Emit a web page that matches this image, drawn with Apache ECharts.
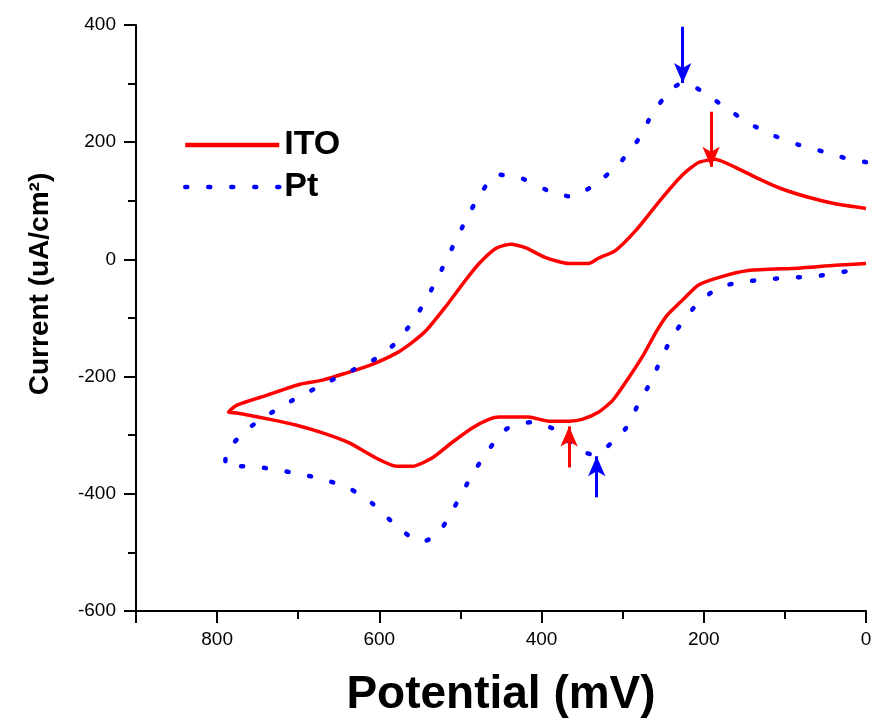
<!DOCTYPE html>
<html>
<head>
<meta charset="utf-8">
<script src="https://cdn.jsdelivr.net/npm/echarts@6/dist/echarts.min.js"></script>
<style>
  html, body { margin: 0; padding: 0; background: #fff; }
  #cv { width: 875px; height: 723px; }
</style>
</head>
<body>
<div id="cv"></div>
<script>
// ITO loop: upper branch 0 -> 787 mV, then lower branch back to 0
var itoPotential = [0, 38, 71, 105, 136, 161, 186, 207, 227, 256, 284, 309, 330, 342, 366, 395, 420, 438, 456, 477, 494, 519, 542, 559, 579, 612, 641, 670, 698, 739, 776, 786,
                    776, 735, 702, 670, 637, 604, 579, 559, 535, 510, 486, 465, 452, 416, 391, 366, 350, 330, 312, 294, 274, 258, 245, 223, 207, 182, 145, 84, 38, 0];
var itoCurrent = [87, 95, 106, 121, 140, 157, 171, 165, 143, 97, 49, 15, 2, -7, -7, 3, 20, 26, 19, -7, -36, -82, -121, -141, -160, -181, -194, -206, -213, -232, -249, -261,
                  -262, -273, -283, -296, -313, -339, -353, -353, -339, -312, -288, -273, -269, -269, -276, -276, -273, -261, -240, -205, -162, -122, -95, -65, -44, -31, -19, -15, -10, -7];

// Pt loop
var ptPotential = [0, 23, 53, 84, 113, 144, 173, 200, 214, 228, 242, 264, 280, 304, 333, 363, 393, 424, 455, 478, 494, 508, 523, 539, 556, 580, 610, 641, 670, 700, 730, 761, 788,
                   790, 757, 728, 698, 668, 638, 609, 579, 560, 548, 535, 521, 504, 487, 468, 444, 414, 384, 355, 340, 323, 296, 280, 263, 250, 233, 210, 182, 154, 123, 92, 63, 32, 0];
var ptCurrent = [166, 172, 184, 196, 211, 232, 259, 285, 296, 300, 288, 247, 206, 164, 129, 107, 118, 138, 145, 106, 65, 26, -17, -60, -100, -143, -174, -194, -214, -235, -259, -288, -327,
                 -353, -353, -359, -366, -376, -390, -416, -455, -475, -482, -475, -455, -414, -371, -330, -290, -278, -290, -324, -332, -324, -288, -245, -203, -161, -120, -79, -48, -39, -34, -31, -29, -22, -15];

// arrow annotations [x, yStart, yEnd] in data units
var itoArrows = [[191, 252, 158], [366, -355, -285]];
var ptArrows = [[226, 397, 301], [332, -406, -336]];

var font = 'Liberation Sans, Arial, sans-serif';

function pairs(xs, ys) {
  var out = [];
  for (var i = 0; i < xs.length; i++) out.push([xs[i], ys[i]]);
  return out;
}

function arrowLines(list) {
  return list.map(function (a) {
    return [{ coord: [a[0], a[1]] }, { coord: [a[0], a[2]] }];
  });
}

var chart = echarts.init(document.getElementById('cv'));

var option = {
  animation: false,
  backgroundColor: '#fff',
  grid: { left: 136, right: 9, top: 25, bottom: 111 },
  legend: {
    orient: 'vertical',
    left: 178,
    top: 123,
    itemWidth: 94,
    itemHeight: 14,
    itemGap: 8,
    itemStyle: { opacity: 0 },
    lineStyle: { width: 4.5 },
    textStyle: { fontFamily: font, fontSize: 34, fontWeight: 'bold', color: '#000' },
    data: ['ITO', 'Pt']
  },
  xAxis: [
    {
      type: 'value',
      inverse: true,
      min: 0,
      max: 900,
      interval: 100,
      position: 'bottom',
      name: 'Potential (mV)',
      nameLocation: 'middle',
      nameGap: 61,
      nameTextStyle: { fontFamily: font, fontSize: 46, fontWeight: 'bold', color: '#000' },
      axisLine: { onZero: false, lineStyle: { color: '#000', width: 2 } },
      axisTick: { length: 8, lineStyle: { color: '#000', width: 2 } },
      axisLabel: {
        margin: 19,
        fontFamily: font, fontSize: 19, color: '#000',
        formatter: function (v) { return v % 200 === 0 ? String(v) : ''; }
      },
      splitLine: { show: false }
    },
    {
      type: 'value',
      inverse: true,
      min: 0,
      max: 900,
      interval: 200,
      position: 'bottom',
      axisLine: { show: false, onZero: false },
      axisTick: { length: 12, lineStyle: { color: '#000', width: 2 } },
      axisLabel: { show: false },
      splitLine: { show: false }
    }
  ],
  yAxis: {
    type: 'value',
    position: 'left',
    min: -600,
    max: 400,
    interval: 200,
    name: 'Current (uA/cm²)',
    nameLocation: 'middle',
    nameGap: 82,
    nameTextStyle: { fontFamily: font, fontSize: 28, fontWeight: 'bold', color: '#000', padding: [0, 0, 0, 68] },
    axisLine: { show: true, onZero: false, lineStyle: { color: '#000', width: 2 } },
    axisTick: { show: true, length: 12, lineStyle: { color: '#000', width: 2 } },
    minorTick: { show: true, splitNumber: 2, length: 8, lineStyle: { color: '#000', width: 2 } },
    axisLabel: { margin: 20, fontFamily: font, fontSize: 19, color: '#000' },
    splitLine: { show: false }
  },
  series: [
    {
      name: 'ITO',
      type: 'line',
      data: pairs(itoPotential, itoCurrent),
      symbol: 'none',
      smooth: 0.2,
      color: '#ff0000',
      lineStyle: { color: '#ff0000', width: 3.5 },
      markLine: {
        silent: true,
        symbol: ['none', 'arrow'],
        symbolSize: [13, 20],
        label: { show: false },
        lineStyle: { color: '#ff0000', width: 3, type: 'solid' },
        data: arrowLines(itoArrows)
      }
    },
    {
      name: 'Pt',
      type: 'line',
      data: pairs(ptPotential, ptCurrent),
      symbol: 'none',
      smooth: 0.2,
      color: '#0000ff',
      lineStyle: { color: '#0000ff', width: 4.5, type: [2, 21], cap: 'round' },
      markLine: {
        silent: true,
        symbol: ['none', 'arrow'],
        symbolSize: [13, 20],
        label: { show: false },
        lineStyle: { color: '#0000ff', width: 3, type: 'solid', cap: 'butt' },
        data: arrowLines(ptArrows)
      }
    }
  ]
};

chart.setOption(option);
</script>
</body>
</html>
